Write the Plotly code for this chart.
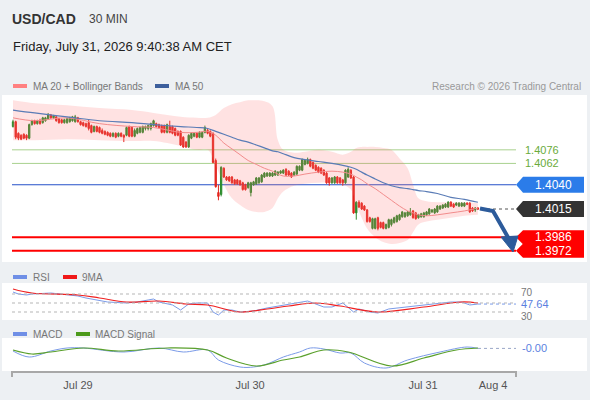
import plotly.graph_objects as go

# USD/CAD 30 min candles, oldest first
opens = [
    1.4100, 1.4105, 1.4093, 1.4091, 1.4092, 1.4091, 1.4088, 1.4102, 1.4106, 1.4103,
    1.4106, 1.4104, 1.4106, 1.4108, 1.4112, 1.4109, 1.4110, 1.4108, 1.4107, 1.4104,
    1.4104, 1.4105, 1.4106, 1.4105, 1.4109, 1.4105, 1.4104, 1.4103, 1.4104, 1.4101,
    1.4095, 1.4100, 1.4099, 1.4096, 1.4095, 1.4094, 1.4093, 1.4090, 1.4093, 1.4090,
    1.4093, 1.4091, 1.4091, 1.4100, 1.4099, 1.4090, 1.4093, 1.4094, 1.4094, 1.4098,
    1.4098, 1.4098, 1.4101, 1.4103, 1.4102, 1.4101, 1.4101, 1.4094, 1.4100, 1.4100,
    1.4098, 1.4095, 1.4095, 1.4089, 1.4084, 1.4079, 1.4088, 1.4090, 1.4093, 1.4089,
    1.4089, 1.4094, 1.4096, 1.4095, 1.4093, 1.4065, 1.4032, 1.4030, 1.4057, 1.4048,
    1.4048, 1.4048, 1.4045, 1.4045, 1.4044, 1.4042, 1.4040, 1.4037, 1.4032, 1.4040,
    1.4041, 1.4042, 1.4043, 1.4048, 1.4049, 1.4049, 1.4049, 1.4050, 1.4050, 1.4052,
    1.4052, 1.4056, 1.4054, 1.4052, 1.4050, 1.4051, 1.4055, 1.4055, 1.4061, 1.4062,
    1.4066, 1.4063, 1.4060, 1.4058, 1.4057, 1.4055, 1.4052, 1.4047, 1.4042, 1.4042,
    1.4048, 1.4047, 1.4045, 1.4042, 1.4048, 1.4055, 1.4048, 1.4011, 1.4022, 1.4021,
    1.4018, 1.4014, 1.4006, 1.3995, 1.3995, 1.4006, 1.4001, 1.4001, 1.3995, 1.3996,
    1.3999, 1.4001, 1.4002, 1.4004, 1.4007, 1.4007, 1.4008, 1.4009, 1.4013, 1.4011,
    1.4006, 1.4007, 1.4007, 1.4009, 1.4010, 1.4012, 1.4011, 1.4012, 1.4015, 1.4016,
    1.4017, 1.4017, 1.4022, 1.4020, 1.4019, 1.4018, 1.4018, 1.4018, 1.4021, 1.4021,
    1.4016, 1.4014, 1.4016,
]
highs = [
    1.4107, 1.4106, 1.4094, 1.4092, 1.4093, 1.4092, 1.4103, 1.4107, 1.4107, 1.4107,
    1.4108, 1.4110, 1.4110, 1.4114, 1.4113, 1.4112, 1.4111, 1.4109, 1.4108, 1.4108,
    1.4109, 1.4110, 1.4111, 1.4112, 1.4110, 1.4106, 1.4105, 1.4104, 1.4107, 1.4102,
    1.4101, 1.4101, 1.4100, 1.4098, 1.4096, 1.4095, 1.4094, 1.4094, 1.4094, 1.4094,
    1.4094, 1.4092, 1.4100, 1.4101, 1.4100, 1.4098, 1.4099, 1.4100, 1.4101, 1.4101,
    1.4102, 1.4104, 1.4107, 1.4104, 1.4103, 1.4102, 1.4102, 1.4103, 1.4106, 1.4101,
    1.4099, 1.4096, 1.4096, 1.4090, 1.4085, 1.4092, 1.4094, 1.4094, 1.4094, 1.4095,
    1.4095, 1.4101, 1.4098, 1.4096, 1.4094, 1.4067, 1.4040, 1.4059, 1.4058, 1.4049,
    1.4049, 1.4049, 1.4046, 1.4046, 1.4045, 1.4043, 1.4041, 1.4043, 1.4043, 1.4044,
    1.4048, 1.4048, 1.4051, 1.4053, 1.4053, 1.4053, 1.4053, 1.4055, 1.4054, 1.4055,
    1.4056, 1.4057, 1.4055, 1.4053, 1.4054, 1.4060, 1.4060, 1.4067, 1.4066, 1.4068,
    1.4067, 1.4064, 1.4061, 1.4059, 1.4058, 1.4056, 1.4053, 1.4048, 1.4048, 1.4049,
    1.4049, 1.4048, 1.4046, 1.4056, 1.4058, 1.4056, 1.4049, 1.4023, 1.4024, 1.4022,
    1.4019, 1.4015, 1.4007, 1.4006, 1.4006, 1.4007, 1.4002, 1.4002, 1.4000, 1.4005,
    1.4005, 1.4007, 1.4009, 1.4010, 1.4013, 1.4012, 1.4013, 1.4016, 1.4014, 1.4012,
    1.4010, 1.4011, 1.4012, 1.4013, 1.4016, 1.4015, 1.4016, 1.4019, 1.4019, 1.4020,
    1.4021, 1.4023, 1.4023, 1.4021, 1.4022, 1.4022, 1.4022, 1.4022, 1.4022, 1.4022,
    1.4017, 1.4017, 1.4017,
]
lows = [
    1.4099, 1.4087, 1.4086, 1.4086, 1.4087, 1.4086, 1.4087, 1.4101, 1.4102, 1.4102,
    1.4102, 1.4103, 1.4105, 1.4107, 1.4108, 1.4108, 1.4105, 1.4103, 1.4103, 1.4103,
    1.4103, 1.4104, 1.4105, 1.4104, 1.4104, 1.4101, 1.4100, 1.4099, 1.4096, 1.4093,
    1.4094, 1.4094, 1.4093, 1.4092, 1.4091, 1.4090, 1.4089, 1.4089, 1.4088, 1.4089,
    1.4089, 1.4084, 1.4090, 1.4089, 1.4089, 1.4089, 1.4092, 1.4093, 1.4093, 1.4096,
    1.4096, 1.4096, 1.4100, 1.4099, 1.4098, 1.4093, 1.4093, 1.4093, 1.4093, 1.4092,
    1.4090, 1.4090, 1.4080, 1.4078, 1.4078, 1.4078, 1.4087, 1.4089, 1.4088, 1.4088,
    1.4088, 1.4093, 1.4092, 1.4089, 1.4062, 1.4037, 1.4024, 1.4028, 1.4047, 1.4044,
    1.4043, 1.4041, 1.4040, 1.4040, 1.4039, 1.4034, 1.4034, 1.4036, 1.4028, 1.4039,
    1.4040, 1.4041, 1.4042, 1.4047, 1.4048, 1.4048, 1.4048, 1.4049, 1.4049, 1.4051,
    1.4051, 1.4049, 1.4049, 1.4047, 1.4049, 1.4050, 1.4054, 1.4054, 1.4060, 1.4061,
    1.4058, 1.4056, 1.4054, 1.4052, 1.4051, 1.4049, 1.4041, 1.4039, 1.4041, 1.4041,
    1.4041, 1.4041, 1.4039, 1.4041, 1.4047, 1.4046, 1.4010, 1.4004, 1.4016, 1.4014,
    1.4013, 1.4001, 1.4001, 1.3994, 1.3994, 1.3993, 1.3995, 1.3994, 1.3994, 1.3995,
    1.3997, 1.4000, 1.4001, 1.4003, 1.4006, 1.4006, 1.4007, 1.4008, 1.4005, 1.4004,
    1.4005, 1.4006, 1.4006, 1.4008, 1.4009, 1.4011, 1.4010, 1.4011, 1.4014, 1.4015,
    1.4016, 1.4016, 1.4017, 1.4016, 1.4018, 1.4017, 1.4017, 1.4017, 1.4019, 1.4011,
    1.4012, 1.4012, 1.4014,
]
closes = [
    1.4105, 1.4089, 1.4088, 1.4087, 1.4088, 1.4088, 1.4102, 1.4106, 1.4103, 1.4106,
    1.4103, 1.4109, 1.4109, 1.4112, 1.4109, 1.4111, 1.4106, 1.4104, 1.4104, 1.4107,
    1.4108, 1.4109, 1.4110, 1.4110, 1.4105, 1.4102, 1.4101, 1.4100, 1.4098, 1.4094,
    1.4100, 1.4095, 1.4094, 1.4093, 1.4092, 1.4091, 1.4090, 1.4093, 1.4089, 1.4093,
    1.4090, 1.4089, 1.4099, 1.4090, 1.4090, 1.4096, 1.4098, 1.4099, 1.4100, 1.4100,
    1.4101, 1.4103, 1.4106, 1.4100, 1.4099, 1.4094, 1.4094, 1.4102, 1.4094, 1.4093,
    1.4091, 1.4091, 1.4081, 1.4079, 1.4079, 1.4091, 1.4093, 1.4093, 1.4089, 1.4094,
    1.4094, 1.4099, 1.4093, 1.4090, 1.4063, 1.4038, 1.4028, 1.4058, 1.4048, 1.4045,
    1.4044, 1.4042, 1.4041, 1.4041, 1.4040, 1.4035, 1.4035, 1.4042, 1.4042, 1.4043,
    1.4047, 1.4047, 1.4050, 1.4052, 1.4052, 1.4052, 1.4052, 1.4054, 1.4053, 1.4054,
    1.4055, 1.4050, 1.4050, 1.4048, 1.4053, 1.4059, 1.4059, 1.4066, 1.4065, 1.4066,
    1.4059, 1.4057, 1.4055, 1.4053, 1.4052, 1.4050, 1.4042, 1.4042, 1.4047, 1.4048,
    1.4042, 1.4042, 1.4042, 1.4055, 1.4056, 1.4047, 1.4011, 1.4022, 1.4017, 1.4015,
    1.4014, 1.4002, 1.4002, 1.4005, 1.4005, 1.3995, 1.3996, 1.3995, 1.3999, 1.4004,
    1.4004, 1.4006, 1.4008, 1.4009, 1.4012, 1.4011, 1.4012, 1.4012, 1.4006, 1.4005,
    1.4009, 1.4010, 1.4011, 1.4012, 1.4015, 1.4014, 1.4015, 1.4018, 1.4018, 1.4019,
    1.4020, 1.4022, 1.4018, 1.4017, 1.4021, 1.4021, 1.4021, 1.4021, 1.4020, 1.4012,
    1.4013, 1.4016, 1.4015,
]

# MA 20 + Bollinger bands and MA 50, read at these bar numbers
band_idx = [0, 8, 20, 32, 44, 52, 62, 68, 72, 75, 78, 81, 84, 87, 90, 93, 96, 98, 100, 104,
            108, 113, 118, 122, 125, 127, 129, 131, 134, 137, 140, 143, 146, 148, 150, 153,
            157, 162, 167, 172]
ma20 = [1.4109, 1.4106, 1.4109, 1.4103, 1.4100, 1.4099, 1.4094, 1.4094, 1.4095, 1.4091,
        1.4083, 1.4077, 1.4071, 1.4065, 1.4061, 1.4057, 1.4054, 1.4051, 1.4049, 1.4049,
        1.4051, 1.4053, 1.4054, 1.4053, 1.4051, 1.4048, 1.4045, 1.4041, 1.4036, 1.4030,
        1.4024, 1.4018, 1.4013, 1.4011, 1.4009, 1.4008, 1.4009, 1.4011, 1.4013, 1.4016]
bb_upper = [1.4127, 1.4124, 1.4122, 1.4119, 1.4117, 1.4114, 1.4110, 1.4109, 1.4109, 1.4112,
            1.4119, 1.4123, 1.4125, 1.4127, 1.4127, 1.4126, 1.4121, 1.4086, 1.4076, 1.4073,
            1.4074, 1.4076, 1.4074, 1.4071, 1.4074, 1.4078, 1.4079, 1.4079, 1.4079, 1.4078,
            1.4076, 1.4067, 1.4057, 1.4040, 1.4026, 1.4023, 1.4022, 1.4022, 1.4022, 1.4021]
bb_lower = [1.4086, 1.4086, 1.4087, 1.4086, 1.4085, 1.4085, 1.4080, 1.4076, 1.4076, 1.4060,
            1.4040, 1.4026, 1.4019, 1.4014, 1.4012, 1.4012, 1.4016, 1.4026, 1.4033, 1.4039,
            1.4041, 1.4042, 1.4042, 1.4040, 1.4035, 1.4019, 1.4006, 1.3995, 1.3986, 1.3981,
            1.3979, 1.3980, 1.3983, 1.3991, 1.3999, 1.4002, 1.4004, 1.4006, 1.4008, 1.4009]
ma50 = [1.4117, 1.4114, 1.4110, 1.4106, 1.4104, 1.4102, 1.4100, 1.4099, 1.4098, 1.4095,
        1.4092, 1.4089, 1.4086, 1.4084, 1.4081, 1.4078, 1.4075, 1.4074, 1.4072, 1.4068,
        1.4066, 1.4064, 1.4062, 1.4060, 1.4058, 1.4056, 1.4053, 1.4050, 1.4046, 1.4042,
        1.4039, 1.4037, 1.4036, 1.4035, 1.4034, 1.4033, 1.4031, 1.4027, 1.4025, 1.4022]

rsi_idx = [0, 2, 5, 7, 14, 24, 27, 35, 42, 46, 50, 52, 54, 59, 62, 65, 68, 72, 74, 76,
           78, 81, 84, 89, 94, 101, 105, 109, 111, 115, 118, 122, 126, 128, 132, 135, 139,
           146, 152, 158, 162, 166, 169, 172]
rsi = [74.4, 70, 67.8, 70, 72.2, 65.6, 61.1, 52.2, 50, 52.2, 56.7, 58.9, 52.2, 45.6, 34.4,
       47.8, 50, 50, 30, 23.3, 34.4, 34.4, 30, 32.2, 38.9, 45.6, 50, 54.4, 50, 41.1, 41.1,
       50, 30, 36.7, 30, 27.8, 36.7, 41.1, 45.6, 50, 52.2, 52.2, 45.6, 47.64]
rsi_ma_idx = [0, 7, 24, 32, 42, 54, 64, 72, 84, 94, 102, 112, 121, 135, 152, 166, 172]
rsi_ma = [81.1, 72.2, 67.8, 61.1, 52.2, 54.4, 47.8, 45.6, 30, 36.7, 43.3, 50, 43.3, 30,
          41.1, 52.2, 50]

macd_idx = [0, 6, 14, 20, 26, 41, 54, 63, 72, 76, 84, 89, 94, 100, 106, 110, 115, 121, 125,
            130, 138, 146, 158, 168, 172]
macd = [-0.00015, -0.00045, -0.00015, 0.0, 0.0, -0.0002, 0.0, -0.0002, -0.0001, -0.0006,
        -0.00095, -0.00095, -0.0008, -0.00045, -0.0002, 0.0, -0.00005, -0.00025, -0.00025,
        -0.00075, -0.001, -0.0006, -0.0002, 0.00005, -0.00002]
sig_idx = [0, 7, 14, 26, 39, 57, 72, 79, 90, 100, 106, 115, 124, 140, 152, 164, 172]
macd_signal = [-0.0001, -0.0003, -0.0002, 0.0, -0.00015, 0.0, -0.0001, -0.0005, -0.0009,
               -0.0006, -0.00045, -0.0001, -0.0002, -0.0009, -0.0005, -0.0001, 0.0]

last_price = 1.4015
resist = [1.4076, 1.4062]
pivot = 1.4040
supports = [1.3986, 1.3972]
rsi_last = "47.64"
macd_last = "-0.00"

tick_pos = [24.05, 87.7, 151.7, 177.6]
tick_text = ["Jul 29", "Jul 30", "Jul 31", "Aug 4"]

# ---- pixel helpers for the layout ----
W, H = 590, 400
ML, MR, MT, MB = 2, 3, 2, 5


def px(x):
    return (x - ML) / (W - ML - MR)


def py(y):
    return (H - MB - y) / (H - MT - MB)


def bx(x):  # pixel -> bar number
    return (x - 13) / 2.703


def pr(y):  # pixel -> price
    return 1.4015 + (209 - y) / 9700


def rv(y):
    return 70 - (y - 294) / 0.45


def mv(y):
    return -(y - 348) * 0.00005


FONT = "Liberation Sans, Arial, sans-serif"
bars = list(range(len(closes)))

fig = go.Figure()
fig.add_trace(go.Scatter(x=band_idx, y=bb_upper, mode="lines", line=dict(width=0, shape="spline"),
                         hoverinfo="skip"))
fig.add_trace(go.Scatter(x=band_idx, y=bb_lower, mode="lines", line=dict(width=0, shape="spline"),
                         fill="tonexty", fillcolor="rgba(255,110,110,0.2)", hoverinfo="skip"))
fig.add_trace(go.Scatter(x=band_idx, y=ma20, mode="lines",
                         line=dict(color="#f28c8c", width=1, shape="spline")))
fig.add_trace(go.Scatter(x=band_idx, y=ma50, mode="lines",
                         line=dict(color="#5a7cb6", width=1.2, shape="spline")))
fig.add_trace(go.Candlestick(
    x=bars, open=opens, high=highs, low=lows, close=closes, whiskerwidth=0,
    increasing=dict(line=dict(color="#2b8a2b", width=1), fillcolor="#2b8a2b"),
    decreasing=dict(line=dict(color="#e3261f", width=1), fillcolor="#e3261f"),
))
fig.add_trace(go.Scatter(x=rsi_idx, y=rsi, yaxis="y2", mode="lines",
                         line=dict(color="#7b9be8", width=1)))
fig.add_trace(go.Scatter(x=rsi_ma_idx, y=rsi_ma, yaxis="y2", mode="lines",
                         line=dict(color="#f02020", width=1.2, shape="spline")))
fig.add_trace(go.Scatter(x=macd_idx, y=macd, yaxis="y3", mode="lines",
                         line=dict(color="#7b9be8", width=1, shape="spline")))
fig.add_trace(go.Scatter(x=sig_idx, y=macd_signal, yaxis="y3", mode="lines",
                         line=dict(color="#5aa02c", width=1.2, shape="spline")))

shapes = []
xl, xr = bx(12), bx(516)
for lv in resist:
    shapes.append(dict(type="line", xref="x", yref="y", x0=xl, x1=xr, y0=lv, y1=lv,
                       line=dict(color="#a9d18e", width=1), layer="below"))
shapes.append(dict(type="line", xref="x", yref="y", x0=xl, x1=xr, y0=pivot, y1=pivot,
                   line=dict(color="#2450c8", width=1), layer="below"))
for lv in supports:
    shapes.append(dict(type="line", xref="x", yref="y", x0=xl, x1=xr, y0=lv, y1=lv,
                       line=dict(color="#ff0000", width=2)))
shapes.append(dict(type="line", xref="x", yref="y", x0=bx(481), x1=xr, y0=last_price, y1=last_price,
                   line=dict(color="#555", width=1, dash="dot")))


def tag(level, half, color):
    h = half / 9700
    a, b, c = bx(516), bx(523), bx(584)
    return dict(type="path", xref="x", yref="y", fillcolor=color, line=dict(width=0),
                path=f"M {a},{level} L {b},{level + h} L {c},{level + h} L {c},{level - h} "
                     f"L {b},{level - h} Z")


shapes.append(tag(pivot, 8, "#2b7ce9"))
shapes.append(tag(last_price, 8, "#333333"))
shapes.append(tag(supports[0], 7, "#ff0000"))
shapes.append(tag(supports[1], 7, "#ff0000"))

# projection arrow
shaft = [(480, 208.5), (493, 211), (509, 239)]
head = [(501, 237), (518, 236), (513, 252)]
shapes.append(dict(type="path", xref="x", yref="y", line=dict(color="#2c5b9b", width=4),
                   path="M " + " L ".join(f"{bx(a)},{pr(b)}" for a, b in shaft)))
shapes.append(dict(type="path", xref="x", yref="y", fillcolor="#2c5b9b", line=dict(color="#2c5b9b", width=1),
                   path="M " + " L ".join(f"{bx(a)},{pr(b)}" for a, b in head) + " Z"))

# indicator guides
for lv in (70, 50, 30):
    shapes.append(dict(type="line", xref="x", yref="y2", x0=xl, x1=xr, y0=lv, y1=lv,
                       line=dict(color="#b5b5b5", width=1, dash="dot")))
shapes.append(dict(type="line", xref="x", yref="y2", x0=bx(478), x1=xr, y0=float(rsi_last),
                   y1=float(rsi_last), line=dict(color="#7b9be8", width=1, dash="dot")))
shapes.append(dict(type="line", xref="x", yref="y3", x0=bx(478), x1=xr, y0=macd[-1], y1=macd[-1],
                   line=dict(color="#9aa6c8", width=1, dash="dot")))

# time axis line
shapes.append(dict(type="line", xref="x", yref="paper", x0=xl, x1=xr, y0=py(372), y1=py(372),
                   line=dict(color="#a8a8a8", width=2)))
for xx in (xl, xr):
    shapes.append(dict(type="line", xref="x", yref="paper", x0=xx, x1=xx, y0=py(371), y1=py(377),
                       line=dict(color="#a8a8a8", width=2)))

# legend swatches
def swatch(x, y, color):
    return dict(type="rect", xref="paper", yref="paper", x0=px(x), x1=px(x + 14),
                y0=py(y + 2), y1=py(y - 2), fillcolor=color, line=dict(width=0))


shapes += [swatch(13, 86, "#ff8080"), swatch(155, 86, "#3d5f9c"),
           swatch(13, 277, "#6f8fe6"), swatch(63, 277, "#f01818"),
           swatch(13, 334, "#6f8fe6"), swatch(76, 334, "#4c9a1c")]

ann = []


def text(x, y, s, size, color, anchor="left", yref="paper", bold=False):
    ann.append(dict(x=px(x), y=py(y) if yref == "paper" else y, xref="paper", yref=yref,
                    text=f"<b>{s}</b>" if bold else s, showarrow=False, xanchor=anchor,
                    yanchor="middle", borderpad=0,
                    font=dict(family=FONT, size=size, color=color)))


text(11, 19, "USD/CAD", 14, "#333333", bold=True)
text(88, 19, "30 MIN", 12, "#444444")
text(12, 47, "Friday, July 31, 2026 9:40:38 AM CET", 13, "#222222")
text(32, 86, "MA 20 + Bollinger Bands", 10, "#777777")
text(174, 86, "MA 50", 10, "#777777")
text(582, 86, "Research © 2026 Trading Central", 10, "#999999", anchor="right")
for lv in resist:
    text(524, lv, f"{lv:.4f}", 11, "#6aab3c", yref="y")
for lv in [pivot, last_price] + supports:
    text(553, lv, f"{lv:.4f}", 12, "white", anchor="center", yref="y")
text(32, 277, "RSI", 10, "#777777")
text(81, 277, "9MA", 10, "#777777")
text(32, 334, "MACD", 10, "#777777")
text(94, 334, "MACD Signal", 10, "#777777")
text(520, 292, "70", 10, "#777777")
text(520, 316, "30", 10, "#777777")
text(520, 304, rsi_last, 11, "#5b7fe0")
text(521, 348, macd_last, 11, "#5b7fe0")

fig.update_layout(
    width=W, height=H, margin=dict(l=ML, r=MR, t=MT, b=MB),
    paper_bgcolor="#edf0f3", plot_bgcolor="white", showlegend=False,
    font=dict(family=FONT),
    xaxis=dict(range=[bx(ML), bx(W - MR)], domain=[0, 1], anchor="free", position=py(372),
               showgrid=False, zeroline=False, showline=False, rangeslider=dict(visible=False),
               tickvals=tick_pos, ticktext=tick_text, ticks="outside", ticklen=3,
               tickcolor="rgba(0,0,0,0)", tickfont=dict(size=11, color="#555555", family=FONT)),
    yaxis=dict(domain=[py(262), py(95)], range=[pr(262), pr(95)], visible=False),
    yaxis2=dict(domain=[py(320), py(283)], range=[rv(320), rv(283)], visible=False),
    yaxis3=dict(domain=[py(371), py(338)], range=[mv(371), mv(338)], visible=False),
    shapes=shapes, annotations=ann,
)

# the page's default 8px body margin would push the chart off its frame
fig.write_html("out.html", config={"displayModeBar": False},
               post_script="document.body.style.margin='0';")
